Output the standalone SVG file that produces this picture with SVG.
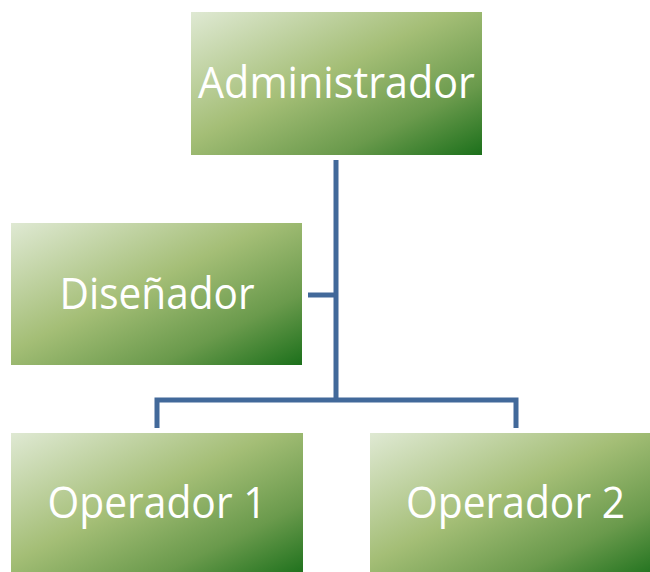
<svg xmlns="http://www.w3.org/2000/svg" width="650" height="572" viewBox="0 0 650 572">
  <defs>
    <linearGradient id="boxFill" x1="0" y1="0" x2="1" y2="1">
      <stop offset="0" stop-color="#dfe9d3"/>
      <stop offset="0.45" stop-color="#a4be76"/>
      <stop offset="0.75" stop-color="#6a9a4c"/>
      <stop offset="1" stop-color="#1c701b"/>
    </linearGradient>
  </defs>
  <style>
    .box { fill: url(#boxFill); }
    .label { fill: #ffffff; font-family: "Open Sans", "Noto Sans", "Liberation Sans", sans-serif; font-size: 43px; text-anchor: middle; }
    .conn { fill: none; stroke: #42699a; stroke-width: 5; stroke-linejoin: miter; }
  </style>
  <rect width="650" height="572" fill="#ffffff"/>

  <g id="connectors">
    <path class="conn" d="M336 160 V400"/>
    <path class="conn" d="M308 295 H336"/>
    <path class="conn" d="M157 428 V400 H516 V428"/>
  </g>

  <g id="administrador">
    <rect class="box" x="191" y="12" width="291" height="143"/>
    <text class="label" x="336.5" y="98" textLength="277" lengthAdjust="spacingAndGlyphs">Administrador</text>
  </g>

  <g id="disenador">
    <rect class="box" x="11" y="223" width="291" height="142"/>
    <text class="label" x="157" y="309" textLength="195" lengthAdjust="spacingAndGlyphs">Diseñador</text>
  </g>

  <g id="operador1">
    <rect class="box" x="11" y="433" width="292" height="143"/>
    <text class="label" x="157" y="518" textLength="219" lengthAdjust="spacingAndGlyphs">Operador 1</text>
  </g>

  <g id="operador2">
    <rect class="box" x="370" y="433" width="291" height="143"/>
    <text class="label" x="515.5" y="518" textLength="219" lengthAdjust="spacingAndGlyphs">Operador 2</text>
  </g>
</svg>
